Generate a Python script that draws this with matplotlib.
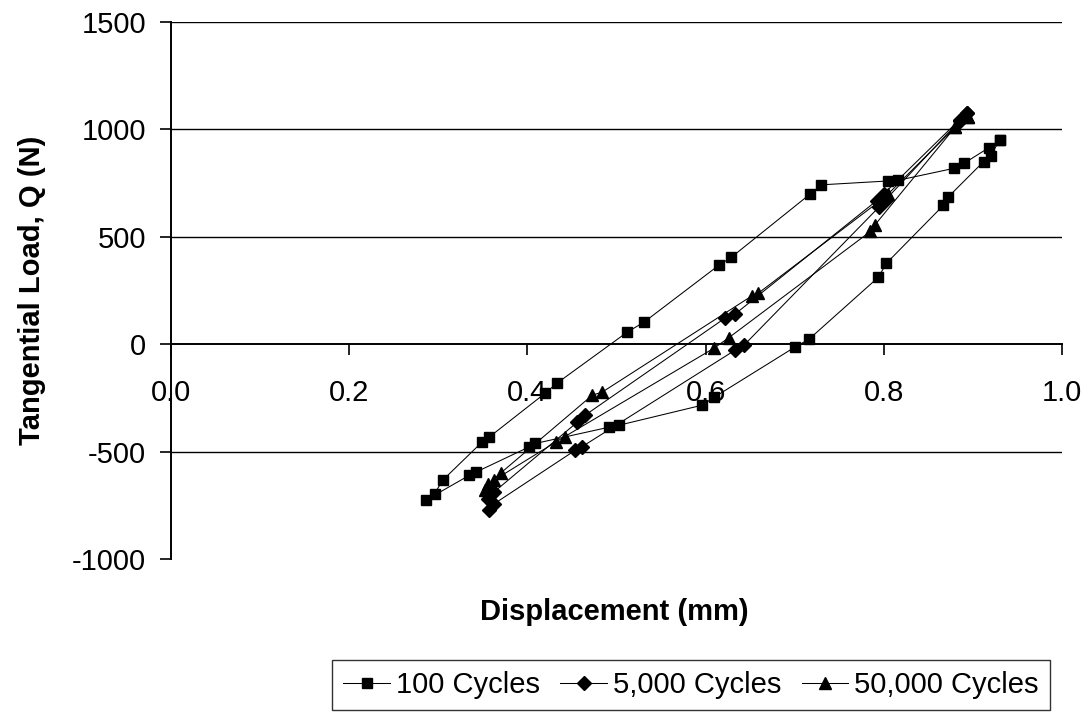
import matplotlib
matplotlib.use("Agg")
import matplotlib.pyplot as plt
from matplotlib.ticker import FixedLocator, FuncFormatter

plt.rcParams['font.family'] = ['Liberation Sans', 'DejaVu Sans']
plt.rcParams['axes.unicode_minus'] = False

# Hysteresis loops: displacement (mm) vs tangential load (N)
cyc100_x = [0.930, 0.918, 0.890, 0.879, 0.816, 0.805, 0.730, 0.717, 0.629, 0.615,
            0.531, 0.512, 0.433, 0.420, 0.357, 0.349, 0.305, 0.296, 0.286, 0.335,
            0.342, 0.402, 0.409, 0.492, 0.503, 0.596, 0.610, 0.700, 0.716, 0.794,
            0.803, 0.867, 0.872, 0.912, 0.920, 0.930]
cyc100_y = [950, 915, 842, 819, 763, 760, 742, 698, 405, 368,
            103, 56, -182, -228, -433, -456, -633, -695, -726, -610,
            -596, -478, -462, -386, -377, -284, -246, -14, 23, 312,
            377, 647, 684, 850, 878, 950]

cyc5k_x = [0.893, 0.885, 0.800, 0.792, 0.633, 0.622, 0.465, 0.456, 0.362, 0.356,
           0.357, 0.362, 0.454, 0.461, 0.633, 0.643, 0.795, 0.802, 0.885, 0.893]
cyc5k_y = [1075, 1045, 700, 668, 140, 122, -330, -363, -690, -720,
           -773, -745, -493, -478, -28, -5, 640, 672, 1040, 1075]

cyc50k_x = [0.895, 0.880, 0.805, 0.795, 0.659, 0.652, 0.484, 0.473, 0.370, 0.362,
            0.352, 0.356, 0.432, 0.442, 0.610, 0.626, 0.785, 0.790, 0.880, 0.895]
cyc50k_y = [1060, 1010, 700, 665, 237, 225, -223, -237, -600, -630,
            -680, -650, -455, -430, -17, 30, 525, 555, 1010, 1060]

series_labels = ["100 Cycles", "5,000 Cycles", "50,000 Cycles"]
x_ticks = [0.0, 0.2, 0.4, 0.6, 0.8, 1.0]
y_ticks = [-1000, -500, 0, 500, 1000, 1500]

FS = 21
fig = plt.figure(figsize=(10.91, 7.19), dpi=100)
ax = fig.add_axes([0.1567, 0.2225, 0.8167, 0.7469])

lw = 0.75
ax.plot(cyc100_x, cyc100_y, color='black', lw=lw, marker='s', ms=6.8,
        mfc='black', mec='black', label=series_labels[0], zorder=3)
ax.plot(cyc5k_x, cyc5k_y, color='black', lw=lw, marker='D', ms=7.2,
        mfc='black', mec='black', label=series_labels[1], zorder=3)
ax.plot(cyc50k_x, cyc50k_y, color='black', lw=lw, marker='^', ms=9,
        mfc='black', mec='black', label=series_labels[2], zorder=3)

ax.set_xlim(0.0, 1.0)
ax.set_ylim(-1000, 1500)

# horizontal gridlines
for yv in y_ticks:
    if yv not in (0, -1000):
        ax.axhline(yv, color='black', lw=1.0, zorder=1)

ax.spines['top'].set_visible(False)
ax.spines['right'].set_visible(False)
ax.spines['bottom'].set_position(('data', 0))
ax.spines['bottom'].set_linewidth(1.4)
ax.spines['left'].set_linewidth(1.4)

ax.xaxis.set_major_locator(FixedLocator(x_ticks))
ax.yaxis.set_major_locator(FixedLocator(y_ticks))
ax.xaxis.set_major_formatter(FuncFormatter(lambda v, p: f"{v:.1f}"))
ax.yaxis.set_major_formatter(FuncFormatter(lambda v, p: f"{int(v)}"))
ax.tick_params(axis='x', direction='out', length=8, width=1.2, pad=17,
               labelsize=FS, colors='black')
ax.tick_params(axis='y', direction='out', length=8, width=1.2, pad=10,
               labelsize=FS, colors='black')

fig.text(0.5635, 1 - 612 / 719, "Displacement (mm)", ha='center', va='center',
         fontsize=FS, fontweight='bold')
fig.text(32 / 1091, 1 - 290 / 719, "Tangential Load, Q (N)", ha='center',
         va='center', rotation=90, fontsize=FS, fontweight='bold')

leg = fig.legend(loc='center', bbox_to_anchor=(691 / 1091, 1 - 685 / 719),
                 ncol=3, fontsize=FS, frameon=True, fancybox=False,
                 edgecolor='black', handlelength=1.6, handletextpad=0.2,
                 columnspacing=0.7, borderpad=0.38, borderaxespad=0)
leg.get_frame().set_linewidth(1.0)

fig.savefig("out.png", dpi=100, facecolor='white')
